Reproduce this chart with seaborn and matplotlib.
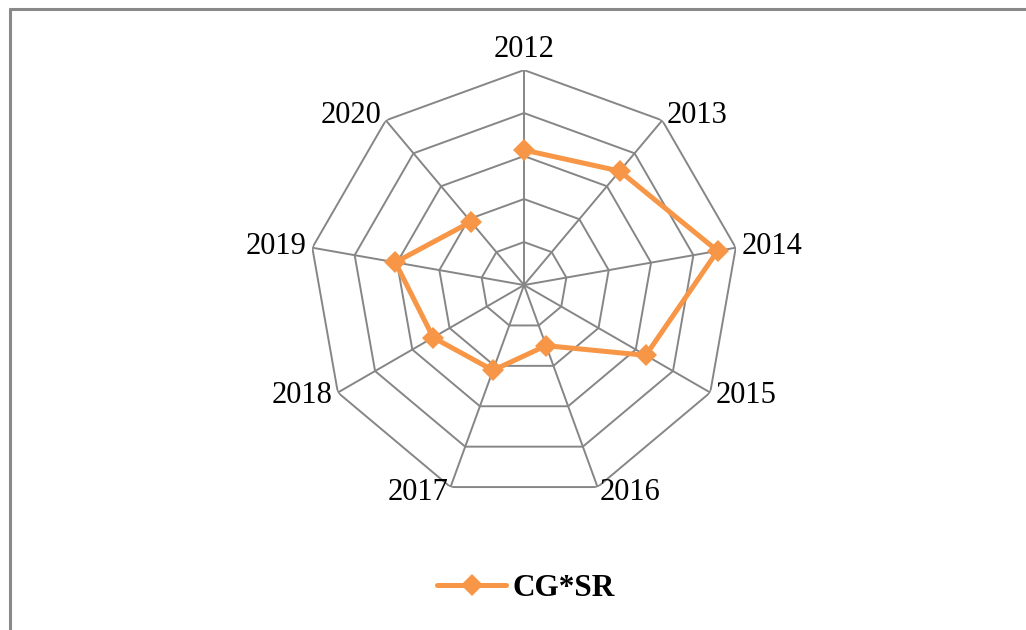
import numpy as np
import pandas as pd
import matplotlib
matplotlib.use("Agg")
import matplotlib.pyplot as plt
from matplotlib.lines import Line2D
import seaborn as sns

# values (scale 0-5, rings every 1)
years = ["2012", "2013", "2014", "2015", "2016", "2017", "2018", "2019", "2020"]
cg_sr = [3.14, 3.46, 4.57, 3.27, 1.50, 2.11, 2.44, 3.04, 1.92]
rings = [1, 2, 3, 4, 5]

sns.set_style("white")
plt.rcParams['font.family'] = ['Liberation Serif', 'DejaVu Serif']
plt.rcParams['text.color'] = 'black'

orange = "#F79646"
grid_col = "#868686"

n = len(years)
theta = np.linspace(0, 2 * np.pi, n, endpoint=False)
theta_closed = np.append(theta, theta[0])

df = pd.DataFrame({"theta": theta_closed, "value": cg_sr + cg_sr[:1]})

fig = plt.figure(figsize=(10.26, 6.3), dpi=100)
ax = fig.add_axes([0.3012, 0.2063, 0.4191, 0.6825], projection="polar")
ax.set_theta_zero_location("N")
ax.set_theta_direction(-1)
ax.set_ylim(0, rings[-1])
ax.grid(False)
ax.spines["polar"].set_visible(False)
ax.set_xticks([])
ax.set_yticks([])
ax.patch.set_alpha(0)

# polygon rings and spokes
for r in rings:
    ax.plot(theta_closed, [r] * (n + 1), color=grid_col, lw=1.4, zorder=1)
for t in theta:
    ax.plot([t, t], [0, rings[-1]], color=grid_col, lw=1.4, zorder=1)

sns.lineplot(data=df, x="theta", y="value", sort=False, ax=ax, color=orange,
             lw=3.6, marker="D", markersize=11, markeredgewidth=0,
             label="CG*SR", zorder=3)

# category labels just outside each vertex
for t, lab in zip(theta, years):
    s, c = np.sin(t), np.cos(t)
    if abs(s) < 0.1:
        ha = "center"
    elif s > 0:
        ha = "left"
    else:
        ha = "right"
    va = "bottom" if c > 0.95 else "center"
    ax.annotate(lab, xy=(t, rings[-1]), xytext=(4.5 * s, 4.5 * c),
                textcoords="offset points", ha=ha, va=va, fontsize=22,
                color="black", annotation_clip=False)

handles, labels = ax.get_legend_handles_labels()
ax.get_legend().remove()
leg = fig.legend(handles, labels, loc="center", bbox_to_anchor=(526 / 1026, 1 - 588 / 630),
                 frameon=False, handlelength=2.2, handletextpad=0.2, borderpad=0,
                 prop={"family": "Liberation Serif", "weight": "bold", "size": 22.5})
for txt in leg.get_texts():
    txt.set_color("black")

# chart area frame (left and top edges visible)
fig.add_artist(Line2D([9.5 / 1026, 9.5 / 1026], [0, 1 - 8.5 / 630],
                      transform=fig.transFigure, color="#898989", lw=2.2))
fig.add_artist(Line2D([9.5 / 1026, 1], [1 - 8.5 / 630, 1 - 8.5 / 630],
                      transform=fig.transFigure, color="#898989", lw=2.2))

fig.savefig("out.png", dpi=100)
